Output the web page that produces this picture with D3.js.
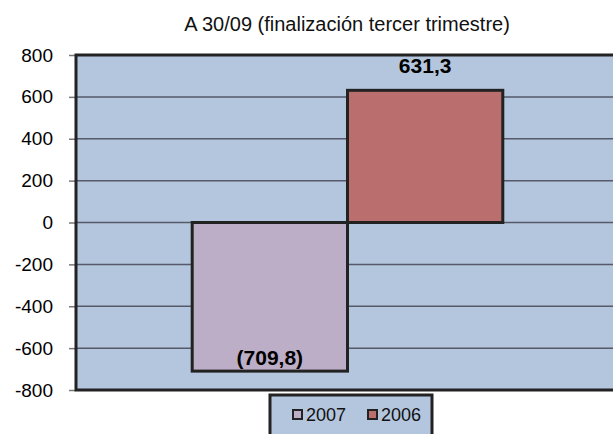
<!DOCTYPE html>
<html>
<head>
<meta charset="utf-8">
<script src="https://cdn.jsdelivr.net/npm/d3@7"></script>
<style>
  body { margin: 0; background: #fff; }
  svg { font-family: "Liberation Sans", Arial, sans-serif; }
</style>
</head>
<body>
<div id="chart"></div>
<script>
var title = "A 30/09 (finalización tercer trimestre)";
var series = ["2007", "2006"];
var values = [-709.8, 631.3];
var valueLabels = ["(709,8)", "631,3"];
var yTicks = [-800, -600, -400, -200, 0, 200, 400, 600, 800];
var colors = ["#bbaec6", "#bb6e6e"];

var W = 613, H = 434;
var margin = {left: 76, top: 55, right: -6, bottom: 44};
var width = W - margin.left - margin.right;
var height = H - margin.top - margin.bottom;

var svg = d3.select("#chart").append("svg")
    .attr("width", W)
    .attr("height", H);

// title
svg.append("text")
  .attr("x", 347)
  .attr("y", 31)
  .attr("text-anchor", "middle")
  .style("font-size", "20px")
  .attr("fill", "#111")
  .text(title);

var g = svg.append("g")
  .attr("transform", "translate(" + margin.left + "," + margin.top + ")");

var y = d3.scaleLinear()
  .domain([-800, 800])
  .range([height, 0]);

// bars sit side by side centred in the single category
var x = d3.scaleBand()
  .domain(series)
  .range([width * 0.214, width * 0.786])
  .padding(0);

// plot background
g.append("rect")
  .attr("width", width)
  .attr("height", height)
  .attr("fill", "#b4c6de");

// gridlines
g.selectAll(".grid")
  .data(yTicks)
  .enter().append("line")
    .attr("x1", 0)
    .attr("x2", width)
    .attr("y1", function(d) { return y(d); })
    .attr("y2", function(d) { return y(d); })
    .attr("stroke", "#55596a")
    .attr("stroke-width", 1.5);

// y axis (hyphen minus like the original)
var yAxis = g.append("g")
  .call(d3.axisLeft(y).tickValues(yTicks).tickSize(7).tickPadding(16)
    .tickFormat(function(d) { return String(d); }));
yAxis.select(".domain").remove();
yAxis.selectAll(".tick line").attr("stroke", "#777").attr("stroke-width", 1.5);
yAxis.selectAll("text")
  .style("font-size", "19px")
  .style("font-family", "'Liberation Sans', Arial, sans-serif")
  .attr("fill", "#000");

// bars
g.selectAll(".bar")
  .data(values)
  .enter().append("rect")
    .attr("x", function(d, i) { return x(series[i]); })
    .attr("width", x.bandwidth())
    .attr("y", function(d) { return y(Math.max(0, d)); })
    .attr("height", function(d) { return Math.abs(y(d) - y(0)); })
    .attr("fill", function(d, i) { return colors[i]; })
    .attr("stroke", "#222")
    .attr("stroke-width", 3);

// value labels
g.selectAll(".lbl")
  .data(values)
  .enter().append("text")
    .attr("x", function(d, i) { return x(series[i]) + x.bandwidth() / 2; })
    .attr("y", function(d) { return d > 0 ? y(d) - 17 : y(d) - 6; })
    .attr("text-anchor", "middle")
    .style("font-size", "21px")
    .style("font-weight", "bold")
    .attr("fill", "#000")
    .text(function(d, i) { return valueLabels[i]; });

// plot border
g.append("rect")
  .attr("width", width)
  .attr("height", height)
  .attr("fill", "none")
  .attr("stroke", "#222")
  .attr("stroke-width", 3);

// legend
var leg = svg.append("g").attr("transform", "translate(270,395)");
leg.append("rect")
  .attr("width", 162)
  .attr("height", 50)
  .attr("fill", "#b4c6de")
  .attr("stroke", "#222")
  .attr("stroke-width", 3);
var items = leg.selectAll(".item")
  .data(series)
  .enter().append("g")
    .attr("transform", function(d, i) { return "translate(" + (23 + i * 75) + ",0)"; });
items.append("rect")
  .attr("x", 0)
  .attr("y", 15)
  .attr("width", 9)
  .attr("height", 9)
  .attr("fill", function(d, i) { return colors[i]; })
  .attr("stroke", "#222")
  .attr("stroke-width", 2);
items.append("text")
  .attr("x", 13)
  .attr("y", 26)
  .style("font-size", "18px")
  .attr("fill", "#111")
  .text(function(d) { return d; });
</script>
</body>
</html>
